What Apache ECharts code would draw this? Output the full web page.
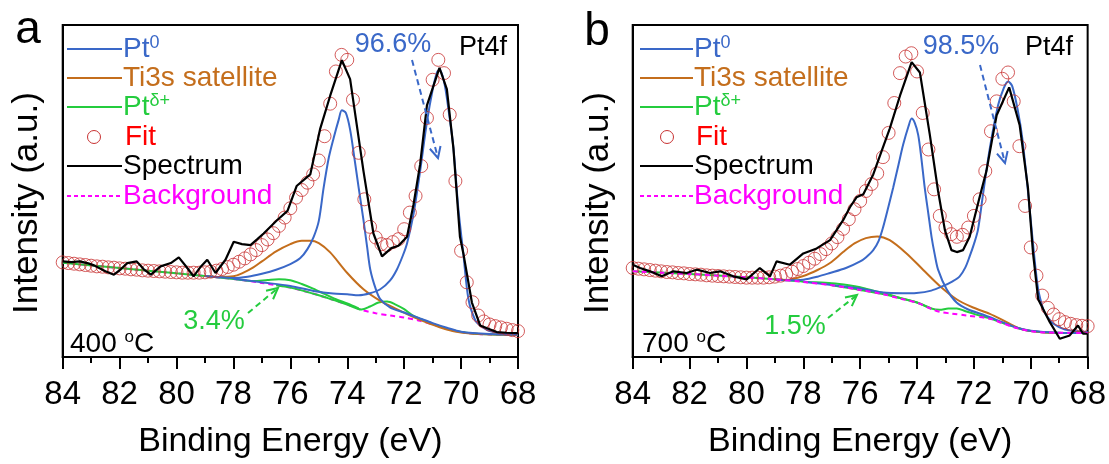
<!DOCTYPE html>
<html>
<head>
<meta charset="utf-8">
<script src="https://cdn.jsdelivr.net/npm/echarts@6/dist/echarts.min.js"></script>
<style>
  html, body { margin: 0; padding: 0; background: #fff; }
  #main { width: 1109px; height: 464px; }
</style>
</head>
<body>
<div id="main"></div>
<script>
// binding energy grid of the fit circles (eV)
const fitEnergy = [
  84.0, 83.8, 83.6, 83.4, 83.2, 83.0, 82.8, 82.6, 82.4, 82.2, 82.0, 81.8, 81.6, 81.4, 81.2, 81.0,
  80.8, 80.6, 80.4, 80.2, 80.0, 79.8, 79.6, 79.4, 79.2, 79.0, 78.8, 78.6, 78.4, 78.2, 78.0,
  77.8, 77.6, 77.4, 77.2, 77.0, 76.8, 76.6, 76.4, 76.2, 76.0, 75.8, 75.6, 75.4, 75.2, 75.0,
  74.8, 74.6, 74.4, 74.2, 74.0, 73.8, 73.6, 73.4, 73.2, 73.0, 72.8, 72.6, 72.4, 72.2, 72.0,
  71.8, 71.6, 71.4, 71.2, 71.0, 70.8, 70.6, 70.4, 70.2, 70.0, 69.8, 69.6, 69.4, 69.2, 69.0,
  68.8, 68.6, 68.4, 68.2, 68.0
]

// ---- panel a : 400 oC ----
const fitA = [
  28.5, 28.3, 28.1, 27.9, 27.7, 27.5, 27.3, 27.2, 27.0, 26.9, 26.7, 26.6, 26.4, 26.3, 26.1, 26.0,
  25.9, 25.8, 25.7, 25.6, 25.5, 25.4, 25.4, 25.4, 25.4, 25.5, 25.7, 26.0, 26.5, 27.1, 27.8,
  28.7, 29.7, 30.9, 32.2, 33.7, 35.4, 37.3, 39.5, 42.0, 44.8, 48.0, 50.3, 52.5, 55.0, 59.2,
  66.5, 76.3, 86.0, 91.0, 89.5, 77.5, 61.5, 47.5, 39.2, 36.0, 34.0, 33.7, 34.6, 35.5, 38.5,
  43.5, 48.5, 57.5, 72.0, 83.5, 89.5, 85.5, 73.0, 53.0, 32.0, 22.5, 16.5, 12.5, 10.7, 9.8,
  9.3, 8.9, 8.5, 8.1, 7.8
]
const spectrumA = [
  [84, 28.8], [83.7, 28.6], [83.4, 28.8], [83.1, 28.2], [82.9, 27.6], [82.5, 25.8], [82.2, 24.8],
  [81.95, 26.5], [81.73, 28.3], [81.4, 28.8], [81.15, 26.4], [80.9, 24.8], [80.56, 27.3], [80.2, 28.3],
  [79.92, 30.0], [79.62, 26.8], [79.4, 24.3], [79.15, 27.2], [78.92, 29.3], [78.63, 25.3], [78.28, 29.3],
  [77.99, 34.7], [77.7, 34.0], [77.4, 33.7], [77.15, 35.6], [76.94, 37.2], [76.47, 41.2], [76.1, 44],
  [75.78, 51.5], [75.3, 55], [74.95, 68.8], [74.6, 78.7], [74.19, 89.4], [73.9, 83.7], [73.43, 56],
  [73.08, 37.2], [72.78, 30.3], [72.45, 32.8], [72.2, 33.5], [71.9, 36.2], [71.67, 46], [71.44, 58],
  [71.2, 75.8], [70.76, 87.1], [70.5, 80.7], [70.27, 62.9], [70.04, 36.2], [69.92, 31.2], [69.62, 16.4],
  [69.33, 9.5], [68.75, 7.5], [68.4, 7.3], [68, 7.2]
]
const backgroundA = [
  [84, 28.4], [83, 27.6], [82, 26.8], [81, 26], [80, 25.2], [79, 24.4], [78, 23.5], [77, 22.3],
  [76, 20.9], [75.5, 19.8], [75, 18.6], [74.5, 17.2], [74, 15.8], [73.5, 14.2], [73, 13.2],
  [72.5, 12.5], [72, 11.9], [71.5, 11], [71, 9.8], [70.5, 8.5], [70, 7.5], [69.5, 7], [69, 6.8], [68, 6.6]
]
const pt0A1 = [
  [79, 24.4], [78.5, 24.0], [78, 23.8], [77.5, 24.2], [77, 25.1], [76.5, 26.3], [76, 28], [75.65, 29.8],
  [75.4, 32.5], [75.18, 36.2], [75, 41], [74.83, 51], [74.65, 60], [74.48, 65.9], [74.3, 71.5],
  [74.19, 74.3], [74.05, 73.5], [73.9, 68.5], [73.75, 60], [73.6, 51], [73.43, 41.2], [73.3, 33],
  [73.19, 26.3], [73.0, 20.5], [72.84, 17.4], [72.49, 14.9], [72, 13.4], [71.44, 11.6], [71, 10.2],
  [70.5, 8.8], [70, 7.6], [69, 6.9], [68, 6.7]
]
const pt0A2 = [
  [78, 23.6], [77, 22.5], [76, 21.4], [75.18, 19.9], [74.5, 19.1], [74, 18.9], [73.6, 18.6],
  [73.2, 19.2], [72.84, 20.4], [72.5, 23], [72.26, 26.3], [72.05, 30.5], [71.9, 34.2], [71.67, 43.1],
  [71.44, 56], [71.2, 70.8], [71.0, 80.5], [70.85, 85.7], [70.76, 86.5], [70.6, 83], [70.45, 75],
  [70.27, 63], [70.1, 45], [69.92, 31], [69.74, 17.4], [69.5, 11], [69.33, 9.5], [69, 7.8], [68.5, 7.2], [68, 7]
]
const ti3sA = [
  [79, 24.4], [78.5, 24.1], [78, 24.3], [77.7, 25.2], [77.3, 27], [77, 28.8], [76.5, 31.8], [76, 34],
  [75.6, 35], [75.3, 35], [75, 34.3], [74.6, 31.5], [74, 25.3], [73.43, 20.4], [72.84, 16.9],
  [72.26, 14.4], [71.67, 12], [71.09, 10], [70.5, 8.3], [70, 7.4], [69.5, 7], [68, 6.7]
]
const ptdA1 = [
  [84, 28.4], [82, 26.8], [80, 25.2], [79, 24.4], [78, 23.5], [77.3, 22.9], [76.8, 23.2], [76.4, 23.4],
  [76, 23.1], [75.6, 22], [75.2, 20.6], [74.8, 19], [74.4, 17.4], [74, 16.1], [73.6, 14.6]
]
const ptdA2 = [
  [76.5, 21.6], [76, 20.9], [75, 18.6], [74.5, 17.2], [74, 15.8], [73.5, 14.3], [73.2, 15.2],
  [72.9, 16.4], [72.6, 16.7], [72.3, 15.8], [72, 14.4], [71.67, 12.4], [71.3, 11], [71, 10],
  [70.5, 8.5], [70, 7.5], [69.5, 7], [68, 6.6]
]

// ---- panel b : 700 oC ----
const fitB = [
  26.8, 26.6, 26.4, 26.2, 26.0, 25.8, 25.6, 25.5, 25.3, 25.2, 25.0, 24.9, 24.8, 24.6, 24.5, 24.4,
  24.3, 24.2, 24.1, 24.0, 23.9, 23.9, 23.9, 23.9, 24.0, 24.2, 24.5, 25.0, 25.7, 26.5, 27.4,
  28.4, 29.6, 31.0, 32.5, 34.2, 36.1, 38.6, 41.5, 44.5, 47.0, 50.0, 52.1, 55.3, 60.2, 67.5,
  76.5, 85.5, 90.5, 91.5, 86.0, 73.5, 62.5, 50.5, 42.5, 39.0, 37.0, 36.2, 36.8, 39.0, 42.5,
  47.5, 56.0, 68.0, 77.0, 83.8, 85.7, 77.0, 63.5, 45.5, 33.0, 24.5, 18.5, 14.8, 12.8, 11.4,
  10.5, 10.0, 9.6, 9.4, 9.3
]
const spectrumB = [
  [84, 27.8], [83.74, 26.8], [83.39, 25.8], [82.98, 24.3], [82.57, 25.8], [82.1, 25.3], [81.75, 26.3],
  [81.28, 25.3], [80.93, 25.8], [80.46, 24.3], [79.99, 23.4], [79.53, 26.8], [79.17, 24.3], [78.94, 28.8],
  [78.47, 27.8], [78, 31.2], [77.53, 32.7], [77.06, 35.2], [76.6, 41.2], [76.36, 45.1], [76.13, 48.1],
  [75.89, 49], [75.54, 55], [75.25, 61.9], [74.96, 68.8], [74.6, 78.7], [74.19, 88.8], [73.9, 85.7],
  [73.55, 66.9], [73.26, 50], [73.02, 38.2], [72.79, 32.2], [72.6, 31.6], [72.38, 32.2], [72.15, 36.2],
  [71.8, 48.1], [71.56, 56], [71.33, 66.9], [71.2, 72.8], [70.76, 81.2], [70.39, 69.8], [70.1, 51],
  [69.92, 31.2], [69.74, 17.4], [69.33, 10.5], [68.98, 5.5], [68.63, 6.5], [68.34, 9.5], [68.16, 7], [68, 7]
]
const backgroundB = [
  [84, 25.8], [83, 25.4], [82, 25], [81, 24.5], [80, 24], [79, 23.4], [78, 22.6], [77, 21.6],
  [76, 20.2], [75.19, 18.9], [74.5, 17.4], [74.02, 16.4], [73.5, 14.5], [73.2, 13.6], [72.8, 13.1],
  [72.26, 12.5], [71.44, 11.5], [71, 10.2], [70.5, 8.7], [69.92, 7.7], [69.5, 7.4], [68, 7.2]
]
const pt0B1 = [
  [79, 23.4], [78.6, 23.1], [78, 23.3], [77.5, 24.2], [77.06, 25.3], [76.5, 26.8], [76, 28.8],
  [75.8, 30], [75.54, 32.2], [75.35, 35], [75.19, 39.2], [75, 45.5], [74.84, 51], [74.65, 58],
  [74.49, 63.9], [74.3, 69.5], [74.19, 71.8], [74.08, 70.5], [73.96, 66.9], [73.85, 60], [73.73, 51],
  [73.6, 43], [73.49, 36.2], [73.38, 31], [73.26, 26.3], [72.96, 20.4], [72.61, 16.4], [72.2, 14.3],
  [71.6, 12.5], [71, 10.5], [70.5, 8.9], [70, 7.9], [69, 7.3], [68, 7.2]
]
const pt0B2 = [
  [78, 22.7], [77, 21.7], [76, 20.6], [75.19, 19.4], [74.5, 19.2], [74.02, 19.3], [73.5, 20],
  [73.08, 21.4], [72.75, 22.8], [72.5, 24.3], [72.3, 27], [72.15, 30.3], [72, 34], [71.86, 38.2],
  [71.68, 49], [71.44, 62.9], [71.15, 75.8], [70.95, 81], [70.8, 83], [70.65, 81.5], [70.45, 74],
  [70.3, 66], [70.1, 50], [69.92, 34], [69.74, 20.4], [69.55, 14], [69.45, 12.5], [69.2, 10],
  [68.8, 8.3], [68, 7.5]
]
const ti3sB = [
  [79, 23.4], [78.59, 23.2], [78, 24.4], [77.5, 26.2], [77.06, 28.3], [76.6, 31.6], [76.2, 34.2],
  [75.8, 35.8], [75.4, 36.3], [74.96, 35.2], [74.37, 31.2], [73.79, 26.3], [73.2, 21.4], [72.61, 17.4],
  [72.03, 14.9], [71.44, 13], [70.85, 10.5], [70.39, 8.6], [70, 7.8], [69.5, 7.4], [68, 7.2]
]
const ptdB1 = [
  [84, 25.8], [82, 25], [80, 24], [79, 23.4], [78, 22.7], [77, 22.2], [76.4, 21.6], [76, 21],
  [75.5, 19.9], [75, 18.8], [74.5, 17.5], [74, 16.4], [73.5, 14.6]
]
const ptdB2 = [
  [77, 21.6], [76, 20.2], [75, 18.6], [74, 16.4], [73.5, 14.6], [73.2, 14.2], [72.9, 14.6],
  [72.6, 14.6], [72.3, 13.8], [72, 13], [71.5, 11.8], [71, 10.3], [70.5, 8.8], [70, 7.8], [69.5, 7.4], [68, 7.2]
]

const FONT = '"Liberation Sans", Arial, sans-serif'
const BLUE = '#3a68c8'
const ORANGE = '#c46e1c'
const GREEN = '#24cc3e'
const MAGENTA = '#ff00ff'
const RED = '#c83232'

function line(name, data, gi, color, extra) {
  return Object.assign({
    name, type: 'line', xAxisIndex: gi, yAxisIndex: gi, data,
    showSymbol: false, smooth: 0.3, lineStyle: { color, width: 2 }, itemStyle: { color },
    silent: true, animation: false
  }, extra || {})
}

function panel(gi, d) {
  return [
    line('Background', d.bg, gi, MAGENTA, { z: d.bgTop ? 6 : 2, lineStyle: { color: MAGENTA, width: 2, type: [5, 4] } }),
    line('Ptd1', d.ptd1, gi, GREEN, { z: 3 }),
    line('Ptd2', d.ptd2, gi, GREEN, { z: 3 }),
    line('Ti3s satellite', d.ti, gi, ORANGE, { z: 4 }),
    line('Pt0 a', d.pt1, gi, BLUE, { z: 4 }),
    line('Pt0 b', d.pt2, gi, BLUE, { z: 4 }),
    {
      name: 'Fit', type: 'scatter', xAxisIndex: gi, yAxisIndex: gi,
      data: fitEnergy.map((e, i) => [e, d.fit[i]]),
      symbol: 'circle', symbolSize: 13,
      itemStyle: { color: 'rgba(0,0,0,0)', borderColor: RED, borderWidth: 1 },
      z: 5, silent: true, animation: false
    },
    line('Spectrum', d.spec, gi, '#000', { smooth: false, z: 7, lineStyle: { color: '#000', width: 2.2 } })
  ]
}

function xAxis(gi) {
  return {
    gridIndex: gi, type: 'value', min: 68, max: 84, interval: 2, inverse: true,
    axisLine: { onZero: false, lineStyle: { color: '#000', width: 2 } },
    axisTick: { length: 12, lineStyle: { color: '#000', width: 2 } },
    minorTick: { show: true, splitNumber: 2, length: 6, lineStyle: { color: '#000', width: 2 } },
    splitLine: { show: false },
    axisLabel: { fontSize: 33, color: '#000', margin: 21, fontFamily: FONT },
    name: 'Binding Energy (eV)', nameLocation: 'middle', nameGap: 68,
    nameTextStyle: { fontSize: 34, color: '#000', fontFamily: FONT }
  }
}

function yAxis(gi) {
  return {
    gridIndex: gi, type: 'value', min: 0, max: 100,
    axisLine: { show: true, lineStyle: { color: '#000', width: 2 } },
    axisTick: { show: false }, axisLabel: { show: false }, splitLine: { show: false }
  }
}

function txt(x, y, text, size, color, extra) {
  return {
    type: 'text', x, y, z: 100, silent: true,
    style: Object.assign({ text, fontSize: size, fontFamily: FONT, fill: color, align: 'left', verticalAlign: 'middle' }, extra || {})
  }
}

function sup(base, s, size, ssize, color) {
  return {
    text: '{b|' + base + '}{s|' + s + '}',
    rich: {
      b: { fontSize: size, lineHeight: size + 2, fill: color, fontFamily: FONT },
      s: { fontSize: ssize, lineHeight: ssize, fill: color, fontFamily: FONT, verticalAlign: 'top' }
    }
  }
}

function arrow(x1, y1, x2, y2, color) {
  const a = Math.atan2(y2 - y1, x2 - x1), L = 11, W = 5.5
  const bx = x2 - L * Math.cos(a), by = y2 - L * Math.sin(a)
  const nx = -Math.sin(a), ny = Math.cos(a)
  return [
    { type: 'line', z: 100, silent: true, shape: { x1, y1, x2, y2 }, style: { stroke: color, lineWidth: 2, lineDash: [6, 4] } },
    { type: 'polyline', z: 100, silent: true, shape: { points: [[bx + nx * W, by + ny * W], [x2, y2], [bx - nx * W, by - ny * W]] }, style: { stroke: color, lineWidth: 2, fill: null } }
  ]
}

function legend(x0, x1, circleX) {
  const rows = [49, 78, 107, 137, 166, 196]
  const g = []
  const seg = (y, color, dash) => ({ type: 'line', z: 100, silent: true, shape: { x1: x0, y1: y, x2: x1, y2: y }, style: { stroke: color, lineWidth: 2, lineDash: dash || null } })
  g.push(seg(rows[0], BLUE), txt(x1 + 1, rows[0], '', 28, BLUE, sup('Pt', '0', 28, 18, BLUE)))
  g.push(seg(rows[1], ORANGE), txt(x1 + 1, rows[1], 'Ti3s satellite', 28, ORANGE))
  g.push(seg(rows[2], GREEN), txt(x1 + 1, rows[2], '', 28, GREEN, sup('Pt', 'δ+', 28, 18, GREEN)))
  g.push({ type: 'circle', z: 100, silent: true, shape: { cx: circleX, cy: rows[3], r: 6.5 }, style: { stroke: RED, lineWidth: 1, fill: null } })
  g.push(txt(x1 + 3, rows[3], 'Fit', 28, '#ff0000'))
  g.push(seg(rows[4], '#000'), txt(x1 + 1, rows[4], 'Spectrum', 28, '#000'))
  g.push(seg(rows[5], MAGENTA, [4, 3]), txt(x1 + 1, rows[5], 'Background', 28, MAGENTA))
  return g
}

function temp(x, y, t) {
  return txt(x, y, '', 28, '#000', {
    text: '{b|' + t + ' }{s|o}{b|C}',
    rich: {
      b: { fontSize: 28, lineHeight: 30, fill: '#000', fontFamily: FONT },
      s: { fontSize: 17, lineHeight: 17, fill: '#000', fontFamily: FONT, verticalAlign: 'top' }
    }
  })
}

function yTitle(x, y) {
  const t = txt(x, y, 'Intensity (a.u.)', 35, '#000', { align: 'center' })
  t.rotation = Math.PI / 2
  return t
}

const graphic = [].concat(
  txt(28, 30, 'a', 46, '#000', { align: 'center' }),
  txt(597, 32, 'b', 46, '#000', { align: 'center' }),
  yTitle(27, 203),
  yTitle(598, 203),
  legend(67, 122, 94),
  legend(640, 693, 667),
  txt(393, 45, '96.6%', 27, BLUE, { align: 'center' }),
  txt(483, 48, 'Pt4f', 27, '#000', { align: 'center' }),
  txt(961, 47, '98.5%', 27, BLUE, { align: 'center' }),
  txt(1049, 48, 'Pt4f', 27, '#000', { align: 'center' }),
  arrow(412, 60, 438, 158, BLUE),
  arrow(980, 65, 1005, 163, BLUE),
  txt(214, 322, '3.4%', 27, GREEN, { align: 'center' }),
  txt(795, 327, '1.5%', 27, GREEN, { align: 'center' }),
  arrow(248, 313, 278, 288, GREEN),
  arrow(828, 318, 857, 295, GREEN),
  temp(70, 344, '400'),
  temp(642, 344, '700')
)

const options = {
  backgroundColor: '#fff',
  animation: false,
  textStyle: { fontFamily: FONT },
  grid: [
    { left: 62.7, top: 25, width: 455.3, height: 337, show: true, borderColor: '#000', borderWidth: 2, backgroundColor: 'transparent' },
    { left: 632.7, top: 25, width: 455.3, height: 337, show: true, borderColor: '#000', borderWidth: 2, backgroundColor: 'transparent' }
  ],
  xAxis: [xAxis(0), xAxis(1)],
  yAxis: [yAxis(0), yAxis(1)],
  series: [].concat(
    panel(0, { bg: backgroundA, ptd1: ptdA1, ptd2: ptdA2, ti: ti3sA, pt1: pt0A1, pt2: pt0A2, fit: fitA, spec: spectrumA, bgTop: false }),
    panel(1, { bg: backgroundB, ptd1: ptdB1, ptd2: ptdB2, ti: ti3sB, pt1: pt0B1, pt2: pt0B2, fit: fitB, spec: spectrumB, bgTop: true })
  ),
  graphic
}

var myChart = echarts.init(document.getElementById('main'))
myChart.setOption(options)
</script>
</body>
</html>
